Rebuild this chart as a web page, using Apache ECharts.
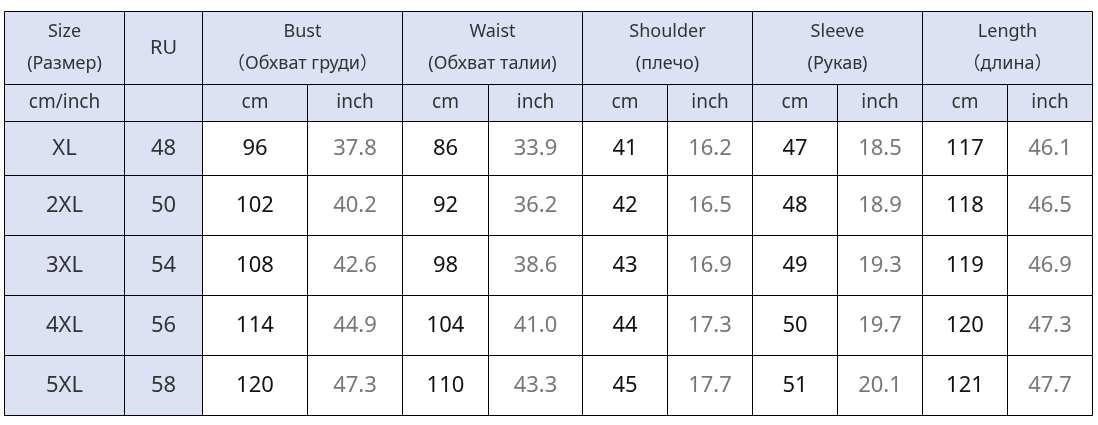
<!DOCTYPE html>
<html>
<head>
<meta charset="utf-8">
<script src="https://cdn.jsdelivr.net/npm/echarts@6/dist/echarts.min.js"></script>
<style>
  html, body { margin: 0; padding: 0; background: #fff; }
  #chart { width: 1098px; height: 425px; }
</style>
</head>
<body>
<div id="chart"></div>
<script>
// size table values
const sizes = ['XL', '2XL', '3XL', '4XL', '5XL'];
const ruSizes = [48, 50, 54, 56, 58];
const bustCm = [96, 102, 108, 114, 120];
const bustInch = [37.8, 40.2, 42.6, 44.9, 47.3];
const waistCm = [86, 92, 98, 104, 110];
const waistInch = [33.9, 36.2, 38.6, 41.0, 43.3];
const shoulderCm = [41, 42, 43, 44, 45];
const shoulderInch = [16.2, 16.5, 16.9, 17.3, 17.7];
const sleeveCm = [47, 48, 49, 50, 51];
const sleeveInch = [18.5, 18.9, 19.3, 19.7, 20.1];
const lengthCm = [117, 118, 119, 120, 121];
const lengthInch = [46.1, 46.5, 46.9, 47.3, 47.7];

const measureNames = ['Bust', 'Waist', 'Shoulder', 'Sleeve', 'Length'];
const measureNamesRu = ['（Обхват груди）', '(Обхват талии)', '(плечо)', '(Рукав)', '（длина）'];
const unitLabels = ['cm', 'inch'];

// layout (table units = pixels inside the grid)
const colEdges = [0, 120, 198, 303, 398, 484, 578, 663, 748, 833, 918, 1003, 1088];
const rowEdges = [0, 73, 110, 164, 224, 284, 344, 404];

const HEAD_BG = '#dce2f4';
const FONT = '"Noto Sans", "Noto Sans CJK SC", sans-serif';

const measures = [
  [bustCm, bustInch],
  [waistCm, waistInch],
  [shoulderCm, shoulderInch],
  [sleeveCm, sleeveInch],
  [lengthCm, lengthInch]
];

// build cell list
const cells = [];
function addCell(c0, c1, r0, r1, text, kind) {
  cells.push({ c0, c1, r0, r1, text, kind });
}
addCell(0, 1, 0, 1, 'Size\n(Размер)', 'head');
addCell(1, 2, 0, 1, 'RU', 'headBig');
measureNames.forEach((n, i) => {
  addCell(2 + i * 2, 4 + i * 2, 0, 1, n + '\n' + measureNamesRu[i], 'head');
});
addCell(0, 1, 1, 2, 'cm/inch', 'unit');
addCell(1, 2, 1, 2, '', 'unit');
measureNames.forEach((n, i) => {
  addCell(2 + i * 2, 3 + i * 2, 1, 2, unitLabels[0], 'unit');
  addCell(3 + i * 2, 4 + i * 2, 1, 2, unitLabels[1], 'unit');
});
sizes.forEach((s, r) => {
  addCell(0, 1, 2 + r, 3 + r, s, 'size');
  addCell(1, 2, 2 + r, 3 + r, String(ruSizes[r]), 'size');
  measures.forEach((m, i) => {
    addCell(2 + i * 2, 3 + i * 2, 2 + r, 3 + r, String(m[0][r]), 'cm');
    addCell(3 + i * 2, 4 + i * 2, 2 + r, 3 + r, m[1][r].toFixed(1), 'inch');
  });
});

const styles = {
  head:    { bg: HEAD_BG, color: '#333', size: 18, lh: 32 },
  headBig: { bg: HEAD_BG, color: '#333', size: 20, lh: 24 },
  unit:    { bg: HEAD_BG, color: '#333', size: 19, lh: 24 },
  size:    { bg: HEAD_BG, color: '#333', size: 22, lh: 24 },
  cm:      { bg: '#fff', color: '#111', size: 22, lh: 24 },
  inch:    { bg: '#fff', color: '#777', size: 22, lh: 24 }
};

const container = document.getElementById('chart');
const myChart = echarts.init(container, null, { renderer: 'canvas' });

const data = cells.map(c => [colEdges[c.c0], rowEdges[c.r0], colEdges[c.c1], rowEdges[c.r1]]);

function renderItem(params, api) {
  const cell = cells[params.dataIndex];
  const p0 = api.coord([api.value(0), api.value(1)]);
  const p1 = api.coord([api.value(2), api.value(3)]);
  const x0 = Math.round(p0[0]) + 0.5, y0 = Math.round(p0[1]) + 0.5;
  const x1 = Math.round(p1[0]) + 0.5, y1 = Math.round(p1[1]) + 0.5;
  const st = styles[cell.kind];
  return {
    type: 'group',
    children: [
      {
        type: 'rect',
        shape: { x: x0, y: y0, width: x1 - x0, height: y1 - y0 },
        style: { fill: st.bg, stroke: '#000', lineWidth: 1 }
      },
      {
        type: 'text',
        style: {
          text: cell.text,
          x: (x0 + x1) / 2,
          y: (y0 + y1) / 2,
          align: 'center',
          verticalAlign: 'middle',
          fontFamily: FONT,
          fontSize: st.size,
          lineHeight: st.lh,
          fill: st.color
        }
      }
    ]
  };
}

const option = {
  animation: false,
  grid: { left: 4, top: 11, right: 6, bottom: 10 },
  xAxis: { type: 'value', min: 0, max: 1088, show: false },
  yAxis: { type: 'value', min: 0, max: 404, inverse: true, show: false },
  series: [
    {
      type: 'custom',
      renderItem: renderItem,
      encode: { x: [0, 2], y: [1, 3] },
      data: data,
      silent: true
    }
  ]
};
myChart.setOption(option);
</script>
</body>
</html>
